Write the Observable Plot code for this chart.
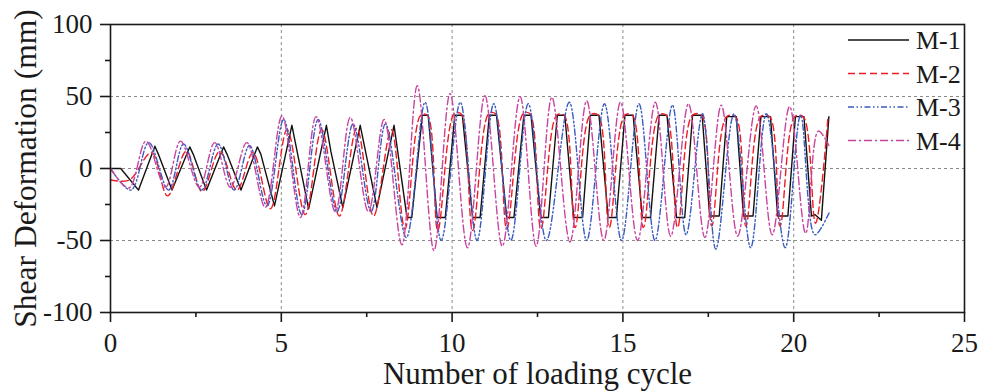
<!DOCTYPE html>
<html><head><meta charset="utf-8">
<script src="https://cdn.jsdelivr.net/npm/d3@7"></script>
<script src="https://cdn.jsdelivr.net/npm/@observablehq/plot@0.6"></script>
<style>
html,body{margin:0;padding:0;background:#fff;}
#chart{position:relative;width:982px;height:391px;}
#chart svg text{font-family:'Liberation Serif','Times New Roman',serif;}
</style></head><body><div id="chart"></div>
<script>
const seriesNames = ["M-1", "M-2", "M-3", "M-4"];
const seriesColors = ["#111111", "#ee1c24", "#3a5bc0", "#c8449e"];
const seriesDash = [null, "7,4", "6,2.5,1.5,2.5,1.5,2.5", "8,3,2,3"];

const m1 = [[0,0],[0.3,0],[0.82,-15],[1.3,15.5],[1.4,10],[1.8,-15],[2.32,15],[2.42,10],[2.81,-15],[3.31,15],[3.41,10],[3.82,-15],[4.3,15],[4.4,10],[4.8,-26],[5.31,30],[5.8,-28],[6.32,30],[6.45,12],[6.8,-27],[7.31,30],[7.8,-27],[8.3,30],[8.68,-34],[8.82,-34],[9.13,37],[9.3,37],[9.56,-34],[9.8,-34],[10.08,37],[10.3,37],[10.6,-34],[10.82,-34],[11.09,37],[11.3,37],[11.6,-34],[11.81,-34],[12.1,37],[12.31,37],[12.59,-34],[12.82,-34],[13.08,37],[13.3,37],[13.56,-34],[13.82,-34],[14.05,37],[14.3,37],[14.57,-34],[14.81,-34],[15.06,37],[15.3,37],[15.57,-34],[15.81,-34],[16.06,37],[16.29,37],[16.57,-34],[16.81,-34],[17.04,37],[17.32,37],[17.54,-33],[17.82,-33],[18.04,36],[18.32,36],[18.53,-33],[18.81,-33],[19.04,36],[19.32,36],[19.53,-33],[19.83,-33],[20.05,36],[20.3,36],[20.52,-33],[20.62,-32],[20.81,-36],[21.03,36]];

const m2 = [[0,-8],[0.55,-8],[1.2,11],[1.67,-19],[2.22,12],[2.68,-16],[3.2,12],[3.7,-15],[4.17,11],[4.68,-28],[5.17,27],[5.7,-32],[6.18,27],[6.7,-33],[7.21,28],[7.7,-33],[8.22,27],[8.62,-42],[9.08,37],[9.28,37],[9.58,-43],[10.06,38],[10.26,38],[10.6,-43],[11.07,38],[11.27,38],[11.6,-42],[12.08,38],[12.28,38],[12.6,-42],[13.06,37],[13.28,37],[13.6,-41],[14.04,37],[14.28,37],[14.6,-41],[15.05,37],[15.28,37],[15.6,-41],[16.05,37],[16.27,37],[16.6,-41],[17.03,37],[17.3,37],[17.6,-40],[18.03,36],[18.3,36],[18.6,-40],[19.03,36],[19.3,36],[19.6,-40],[20.03,36],[20.28,36],[20.64,-38],[21.0,35]];

const m3 = [[0,0],[0.6,-15],[1.12,18],[1.7,-15],[2.14,17],[2.67,-15],[3.15,17],[3.62,-15],[4.07,16],[4.58,-26],[5.07,34],[5.6,-32],[6.08,34],[6.63,-30],[7.1,31],[7.63,-30],[8.05,31],[8.66,-48],[9.21,46],[9.68,-50],[10.24,46],[10.73,-50],[11.22,45],[11.72,-50],[12.23,45],[12.76,-50],[13.43,46],[13.94,-50],[14.46,45],[14.96,-50],[15.47,45],[15.94,-50],[16.45,44],[16.85,-46],[17.33,38],[17.72,-56],[18.25,38],[18.74,-55],[19.2,38],[19.75,-55],[20.2,37],[20.62,-46],[21.05,-30]];

const m4 = [[0,0],[0.54,-13.5],[1.04,19],[1.61,-13],[2.05,19],[2.6,-13],[3.05,18],[3.51,-13],[3.99,18],[4.53,-27],[5.02,36.5],[5.56,-34],[6.02,36],[6.58,-30],[7.02,35.5],[7.55,-30],[8.01,34],[8.53,-53],[8.98,57.5],[9.47,-57],[9.94,52],[10.45,-55],[10.96,50.5],[11.47,-54],[11.99,50],[12.46,-54],[12.92,49.5],[13.45,-51],[13.94,47],[14.44,-50],[14.93,46],[15.43,-50],[15.95,46],[16.4,-47],[16.92,45],[17.4,-48],[17.88,44],[18.36,-47],[18.9,43.5],[19.37,-46],[19.88,43],[20.35,-45],[20.72,26],[21.03,16]];

const xMajor = [0, 5, 10, 15, 20, 25];
const xMinor = [2.5, 7.5, 12.5, 17.5, 22.5];
const xGrid = [5, 10, 15, 20];
const yMajor = [-100, -50, 0, 50, 100];
const yMinor = [-75, -25, 25, 75];
const yGrid = [-50, 0, 50];
const xTitle = "Number of loading cycle";
const yTitle = "Shear Deformation (mm)";

const allSeries = [m1, m2, m3, m4];
const font = "'Liberation Serif', 'Times New Roman', serif";

const lineMarks = allSeries.map((arr, i) => Plot.line(arr.map(([x, y]) => ({x, y})), {
  x: "x", y: "y",
  stroke: seriesColors[i],
  strokeWidth: 1.4,
  strokeDasharray: seriesDash[i] || undefined,
  curve: i === 0 ? "linear" : "catmull-rom"
}));

const fmt = d => String(d);

const plot = Plot.plot({
  width: 982,
  height: 391,
  marginLeft: 110,
  marginRight: 18,
  marginTop: 24,
  marginBottom: 79,
  style: {fontFamily: font, fontSize: "27px", background: "#fff", color: "#1a1a1a"},
  x: {domain: [0, 25]},
  y: {domain: [-100, 100]},
  marks: [
    Plot.gridX(xGrid, {stroke: "#8a8a8a", strokeOpacity: 1, strokeDasharray: "3,3", strokeWidth: 1}),
    Plot.gridY(yGrid, {stroke: "#8a8a8a", strokeOpacity: 1, strokeDasharray: "3,3", strokeWidth: 1}),
    ...lineMarks,
    Plot.axisX({ticks: xMajor, tickSize: 10, tickPadding: 10, tickFormat: fmt, label: null, strokeWidth: 1.6, fontSize: 27, fontFamily: font}),
    Plot.axisX({ticks: xMinor, tickSize: 5, tickFormat: () => "", label: null, strokeWidth: 1.6}),
    Plot.axisY({ticks: yMajor, tickSize: 10, tickPadding: 8, tickFormat: fmt, label: null, strokeWidth: 1.6, fontSize: 27, fontFamily: font}),
    Plot.axisY({ticks: yMinor, tickSize: 5, tickFormat: () => "", label: null, strokeWidth: 1.6}),
    Plot.frame({stroke: "#1a1a1a", strokeWidth: 1.6}),
    Plot.text([xTitle], {frameAnchor: "bottom", lineAnchor: "middle", textAnchor: "middle", dy: 62, fontSize: 31, fontFamily: font, fill: "#1a1a1a"}),
    Plot.text([yTitle], {frameAnchor: "left", lineAnchor: "middle", textAnchor: "middle", dx: -85, rotate: -90, fontSize: 31.5, fontFamily: font, fill: "#1a1a1a"})
  ]
});

// legend inside plot (top-right)
const lg = d3.select(plot).append("g").attr("font-family", font).attr("font-size", 26).attr("fill", "#1a1a1a").attr("text-anchor", "start");
seriesNames.forEach((n, i) => {
  const yy = 40 + i * 33.5;
  const ln = lg.append("line").attr("x1", 848).attr("x2", 909).attr("y1", yy).attr("y2", yy)
    .attr("stroke", seriesColors[i]).attr("stroke-width", 1.4);
  if (seriesDash[i]) ln.attr("stroke-dasharray", seriesDash[i]);
  lg.append("text").attr("x", 916).attr("y", yy).attr("dy", "0.35em").attr("text-anchor", "start").text(n);
});

document.getElementById("chart").appendChild(plot);
</script>
</body></html>
